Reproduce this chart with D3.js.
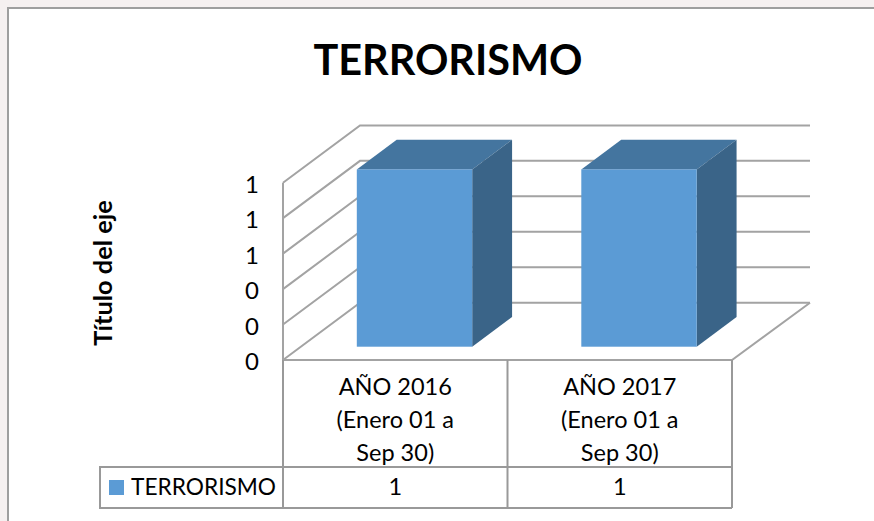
<!DOCTYPE html>
<html>
<head>
<meta charset="utf-8">
<script src="https://cdn.jsdelivr.net/npm/d3@7"></script>
<style>
html, body { margin: 0; padding: 0; background: #f5f0f0; }
svg { display: block; }
text { font-family: Lato, "Open Sans", sans-serif; fill: #000; }
</style>
</head>
<body>
<svg id="chart"></svg>
<script>
const categories = [["AÑO 2016", "(Enero 01 a", "Sep 30)"], ["AÑO 2017", "(Enero 01 a", "Sep 30)"]];
const values = [1, 1];
const yTicks = [0, 0.2, 0.4, 0.6, 0.8, 1];
const seriesName = "TERRORISMO";
const chartTitle = "TERRORISMO";
const yTitle = "Título del eje";

const svgWidth = 874;
const svgHeight = 521;
const gridColor = "#a3a3a3";
const lineColor = "#999999";

const plotLeft = 283, plotRight = 732, plotBottom = 360, plotTop = 182.7;
const depthX = 77, depthY = 57.3;
// bars sit in the middle of the floor depth
const barDepthStart = 0.25, barDepthEnd = 0.768;

var svg = d3.select("#chart")
    .attr("width", svgWidth)
    .attr("height", svgHeight);

// white sheet with the frame on top and left
svg.append("rect")
    .attr("x", 8).attr("y", 8)
    .attr("width", svgWidth - 8).attr("height", svgHeight - 8)
    .attr("fill", "#ffffff");
svg.append("path")
    .attr("d", "M8," + svgHeight + "V8H" + svgWidth)
    .attr("fill", "none")
    .attr("stroke", "#9e9e9e")
    .attr("stroke-width", 2);

var x = d3.scaleBand()
    .domain(d3.range(categories.length))
    .range([plotLeft, plotRight])
    .paddingInner(0.486)
    .paddingOuter(0.243);

var y = d3.scaleLinear()
    .domain([0, 1])
    .range([plotBottom, plotTop]);

// back wall, side wall and floor gridlines
var grid = svg.append("g")
    .attr("fill", "none")
    .attr("stroke", gridColor)
    .attr("stroke-width", 2);

grid.selectAll("path.tick")
    .data(yTicks)
    .enter()
    .append("path")
    .attr("class", "tick")
    .attr("d", function(d) {
        return "M" + plotLeft + "," + y(d)
            + "L" + (plotLeft + depthX) + "," + (y(d) - depthY)
            + "H" + (plotRight + depthX + 1);
    });

grid.append("path")
    .attr("d", "M" + plotLeft + "," + y(0) + "V" + y(1));
grid.append("path")
    .attr("d", "M" + plotLeft + "," + y(0)
        + "H" + plotRight
        + "L" + (plotRight + depthX + 1) + "," + (y(0) - depthY));

// bars
var bars = svg.selectAll("g.bar")
    .data(values)
    .enter()
    .append("g")
    .attr("class", "bar");

function frontX(i) {
    return x(i) + barDepthStart * depthX;
}
function frontBase() {
    return 13.3;
}
var barDX = (barDepthEnd - barDepthStart) * depthX;
var barDY = (barDepthEnd - barDepthStart) * depthY;

bars.append("path")
    .attr("fill", "#44759f")
    .attr("d", function(d, i) {
        var x0 = frontX(i), x1 = x0 + x.bandwidth(), t = y(d) - frontBase();
        return "M" + x0 + "," + t + "L" + (x0 + barDX) + "," + (t - barDY)
            + "H" + (x1 + barDX) + "L" + x1 + "," + t + "Z";
    });

bars.append("path")
    .attr("fill", "#3a6488")
    .attr("d", function(d, i) {
        var x1 = frontX(i) + x.bandwidth(), t = y(d) - frontBase(), b = y(0) - frontBase();
        return "M" + x1 + "," + t + "L" + (x1 + barDX) + "," + (t - barDY)
            + "V" + (b - barDY) + "L" + x1 + "," + b + "Z";
    });

bars.append("rect")
    .attr("fill", "#5b9bd5")
    .attr("x", function(d, i) { return frontX(i); })
    .attr("y", function(d) { return y(d) - frontBase(); })
    .attr("width", x.bandwidth())
    .attr("height", function(d) { return y(0) - y(d); });

// y tick labels
svg.selectAll("text.ytick")
    .data(yTicks)
    .enter()
    .append("text")
    .attr("class", "ytick")
    .attr("x", 259)
    .attr("y", function(d) { return y(d) + 10; })
    .attr("text-anchor", "end")
    .attr("font-size", 24)
    .text(d3.format(".0f"));

// data table under the plot
var colX = d3.scaleBand()
    .domain(d3.range(categories.length))
    .range([plotLeft, plotRight]);
const tableMid = 467, tableBottom = 508, tableLeft = 100;

var table = svg.append("g")
    .attr("fill", "none")
    .attr("stroke", lineColor)
    .attr("stroke-width", 2);

table.selectAll("path.col")
    .data(d3.range(categories.length + 1))
    .enter()
    .append("path")
    .attr("class", "col")
    .attr("d", function(i) {
        var px = plotLeft + i * colX.step();
        return "M" + px + "," + plotBottom + "V" + tableBottom;
    });

table.append("path")
    .attr("d", "M" + plotRight + "," + tableMid + "H" + tableLeft
        + "V" + tableBottom + "H" + plotRight);

categories.forEach(function(lines, i) {
    var cx = colX(i) + colX.bandwidth() / 2;
    svg.selectAll(null)
        .data(lines)
        .enter()
        .append("text")
        .attr("x", cx)
        .attr("y", function(d, j) { return 395 + j * 33; })
        .attr("text-anchor", "middle")
        .attr("font-size", 23.5)
        .text(function(d) { return d; });

    svg.append("text")
        .attr("x", cx)
        .attr("y", 495)
        .attr("text-anchor", "middle")
        .attr("font-size", 23.5)
        .text(d3.format(".0f")(values[i]));
});

// legend key
svg.append("rect")
    .attr("x", 109).attr("y", 480)
    .attr("width", 15).attr("height", 15)
    .attr("fill", "#5b9bd5");
svg.append("text")
    .attr("x", 131).attr("y", 495)
    .attr("font-size", 22.7)
    .text(seriesName);

// titles
svg.append("text")
    .attr("x", 448).attr("y", 75)
    .attr("text-anchor", "middle")
    .attr("font-size", 41.4)
    .attr("font-weight", 700)
    .text(chartTitle);

svg.append("text")
    .attr("transform", "translate(112,273) rotate(-90)")
    .attr("text-anchor", "middle")
    .attr("font-size", 25.4)
    .attr("font-weight", 700)
    .text(yTitle);
</script>
</body>
</html>
